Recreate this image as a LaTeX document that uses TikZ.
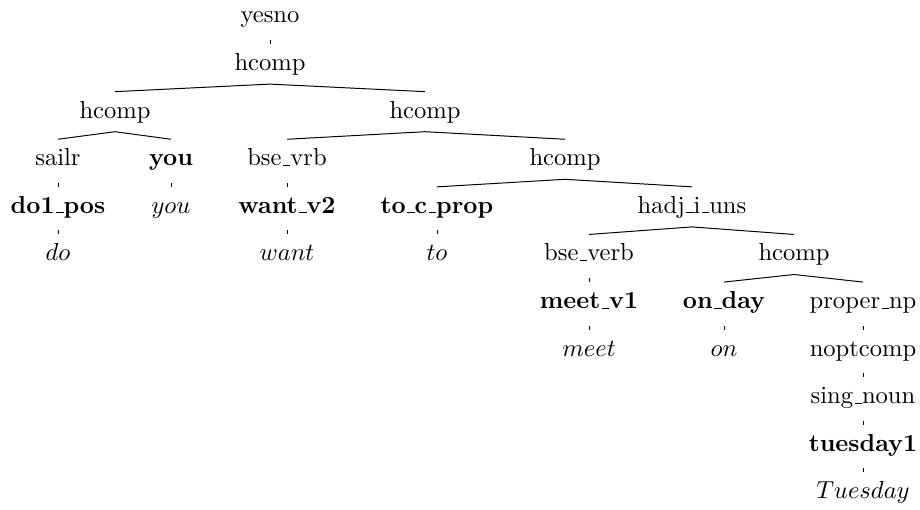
\documentclass[tikz,border=0pt]{standalone}
\usepackage{tikz}
\usetikzlibrary{positioning}
\newcommand{\uscore}{\kern.06em\vbox{\hrule width.3em}}
\tikzset{
    lbl/.style={anchor=base, inner sep=0pt, text height=10.6pt, text depth=5.3pt},
    lex/.style={lbl, font=\bfseries},
    unary/.style={shorten <=1.4pt}
}
\begin{document}
\begin{tikzpicture}[x=0.407pt, y=-0.407pt]
    \useasboundingbox (0,0) rectangle (920,510);
    % rule names and lexical entries
    \node[lbl] (yesno) at (270, 23) {yesno};
    \node[lbl] (hc0) at (270, 70.6) {hcomp};
    \node[lbl] (hcL) at (115, 118.2) {hcomp};
    \node[lbl] (hcR) at (425, 118.2) {hcomp};
    \node[lbl] (sailr) at (58, 165.8) {sailr};
    \node[lex] (youB) at (171, 165.8) {you};
    \node[lbl] (bsevrb) at (287, 165.8) {bse\uscore vrb};
    \node[lbl] (hcA) at (565, 165.8) {hcomp};
    \node[lex] (do1) at (58, 213.4) {do1\uscore pos};
    \node[lbl] (youI) at (171, 213.4) {$you$};
    \node[lex] (want2) at (287, 213.4) {want\uscore v2};
    \node[lex] (toc) at (437, 213.4) {to\uscore c\uscore prop};
    \node[lbl] (hadj) at (692, 213.4) {hadj\uscore i\uscore uns};
    \node[lbl] (do) at (58, 261) {$do$};
    \node[lbl] (want) at (287, 261) {$want$};
    \node[lbl] (to) at (437, 261) {$to$};
    \node[lbl] (bseverb) at (589, 261) {bse\uscore verb};
    \node[lbl] (hcB) at (794, 261) {hcomp};
    \node[lex] (meet1) at (589, 308.6) {meet\uscore v1};
    \node[lex] (onday) at (724, 308.6) {on\uscore day};
    \node[lbl] (propnp) at (863, 308.6) {proper\uscore np};
    \node[lbl] (meet) at (589, 356.2) {$meet$};
    \node[lbl] (on) at (724, 356.2) {$on$};
    \node[lbl] (noptc) at (863, 356.2) {noptcomp};
    \node[lbl] (singn) at (863, 403.8) {sing\uscore noun};
    \node[lex] (tue1) at (863, 451.4) {tuesday1};
    \node[lbl] (tue) at (863, 499) {$Tuesday$};
    % binary branches
    \draw (hc0.south) -- (hcL.north);
    \draw (hc0.south) -- (hcR.north);
    \draw (hcL.south) -- (sailr.north);
    \draw (hcL.south) -- (youB.north);
    \draw (hcR.south) -- (bsevrb.north);
    \draw (hcR.south) -- (hcA.north);
    \draw (hcA.south) -- (toc.north);
    \draw (hcA.south) -- (hadj.north);
    \draw (hadj.south) -- (bseverb.north);
    \draw (hadj.south) -- (hcB.north);
    \draw (hcB.south) -- (onday.north);
    \draw (hcB.south) -- (propnp.north);
    % unary ticks
    \draw[unary] (yesno.south) -- (hc0.north);
    \draw[unary] (sailr.south) -- (do1.north);
    \draw[unary] (youB.south) -- (youI.north);
    \draw[unary] (bsevrb.south) -- (want2.north);
    \draw[unary] (do1.south) -- (do.north);
    \draw[unary] (want2.south) -- (want.north);
    \draw[unary] (toc.south) -- (to.north);
    \draw[unary] (bseverb.south) -- (meet1.north);
    \draw[unary] (meet1.south) -- (meet.north);
    \draw[unary] (onday.south) -- (on.north);
    \draw[unary] (propnp.south) -- (noptc.north);
    \draw[unary] (noptc.south) -- (singn.north);
    \draw[unary] (singn.south) -- (tue1.north);
    \draw[unary] (tue1.south) -- (tue.north);
\end{tikzpicture}
\end{document}
